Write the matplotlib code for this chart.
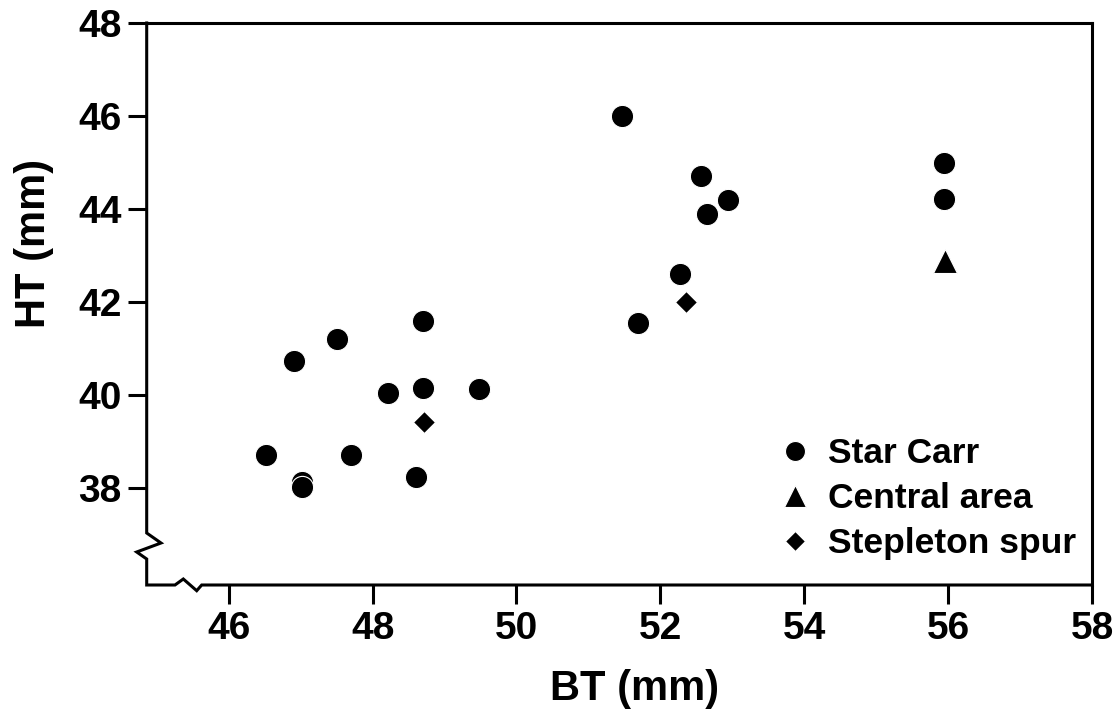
import matplotlib
matplotlib.use("Agg")
import matplotlib.pyplot as plt
from matplotlib.lines import Line2D

plt.rcParams['font.family'] = ['Liberation Sans', 'DejaVu Sans']
plt.rcParams['font.weight'] = 'bold'

# Breadth (BT) and height (HT) of the trochlea, in mm
star_carr_bt = [46.52, 46.91, 47.51, 47.70, 48.22, 48.60, 48.70, 48.70, 49.48,
                47.02, 47.02, 51.46, 51.69, 52.27, 52.56, 52.65, 52.94, 55.94, 55.94]
star_carr_ht = [38.70, 40.72, 41.20, 38.70, 40.03, 38.24, 41.60, 40.15, 40.12,
                38.13, 38.02, 46.00, 41.54, 42.61, 44.70, 43.90, 44.20, 44.99, 44.22]

central_bt = [55.95]
central_ht = [42.88]

stepleton_bt = [48.71, 52.36]
stepleton_ht = [39.41, 42.00]

series_labels = ["Star Carr", "Central area", "Stepleton spur"]
x_ticks = [46, 48, 50, 52, 54, 56, 58]
y_ticks = [38, 40, 42, 44, 46, 48]

W, H = 1120, 713
fig = plt.figure(figsize=(W / 100, H / 100), dpi=100)
ax = fig.add_axes([146.7 / W, (H - 585) / H, (1092 - 146.7) / W, (585 - 23) / H])

edge = dict(markeredgecolor='white', markeredgewidth=0.8, linestyle='none', color='black')
ax.plot(star_carr_bt, star_carr_ht, marker='o', markersize=16, label=series_labels[0], **edge)
ax.plot(central_bt, central_ht, marker='^', markersize=17, label=series_labels[1], **edge)
ax.plot(stepleton_bt, stepleton_ht, marker='D', markersize=11.5, label=series_labels[2], **edge)

ax.set_xlim(44.86, 58.0)
ax.set_ylim(35.91, 48.0)
ax.set_xticks(x_ticks)
ax.set_yticks(y_ticks)
ax.tick_params(axis='both', direction='out', length=13.5, width=2.2, labelsize=28, color='black')
ax.tick_params(axis='x', pad=5)
ax.tick_params(axis='y', pad=4.5)
for lab in ax.get_xticklabels() + ax.get_yticklabels():
    lab.set_fontweight('bold')

# Top and right frame lines; left and bottom drawn with break marks
for side in ('top', 'right'):
    ax.spines[side].set_linewidth(2.2)
for side in ('left', 'bottom'):
    ax.spines[side].set_visible(False)

aw, ah = 1092 - 146.7, 585 - 23
left_x = [0, 0, 14.3 / aw, -10 / aw, 0, 0]
left_y = [1, 52 / ah, 42 / ah, 33 / ah, 26 / ah, 0]
bot_x = [0, 28.3 / aw, 36.6 / aw, 50 / aw, 55 / aw, 1]
bot_y = [0, 0, 6 / ah, -5.7 / ah, 0, 0]
ax.add_line(Line2D(left_x + bot_x, left_y + bot_y, transform=ax.transAxes,
                   color='black', linewidth=2.2, clip_on=False,
                   solid_joinstyle='miter', solid_capstyle='projecting'))

fig.text(635 / W, (H - 700) / H, "BT (mm)", ha='center', va='baseline',
         fontsize=30, fontweight='bold')
fig.text(45 / W, (H - 243) / H, "HT (mm)", ha='center', va='baseline',
         rotation=90, rotation_mode='anchor', fontsize=30, fontweight='bold')

leg = ax.legend(loc='upper left', bbox_to_anchor=(777 / W, (H - 437) / H),
                bbox_transform=fig.transFigure, frameon=False, fontsize=25.5,
                handlelength=1.0, handletextpad=0.43, labelspacing=0.34,
                borderpad=0, borderaxespad=0, markerscale=0.9)
for t in leg.get_texts():
    t.set_fontweight('bold')

fig.savefig("out.png", dpi=100)
